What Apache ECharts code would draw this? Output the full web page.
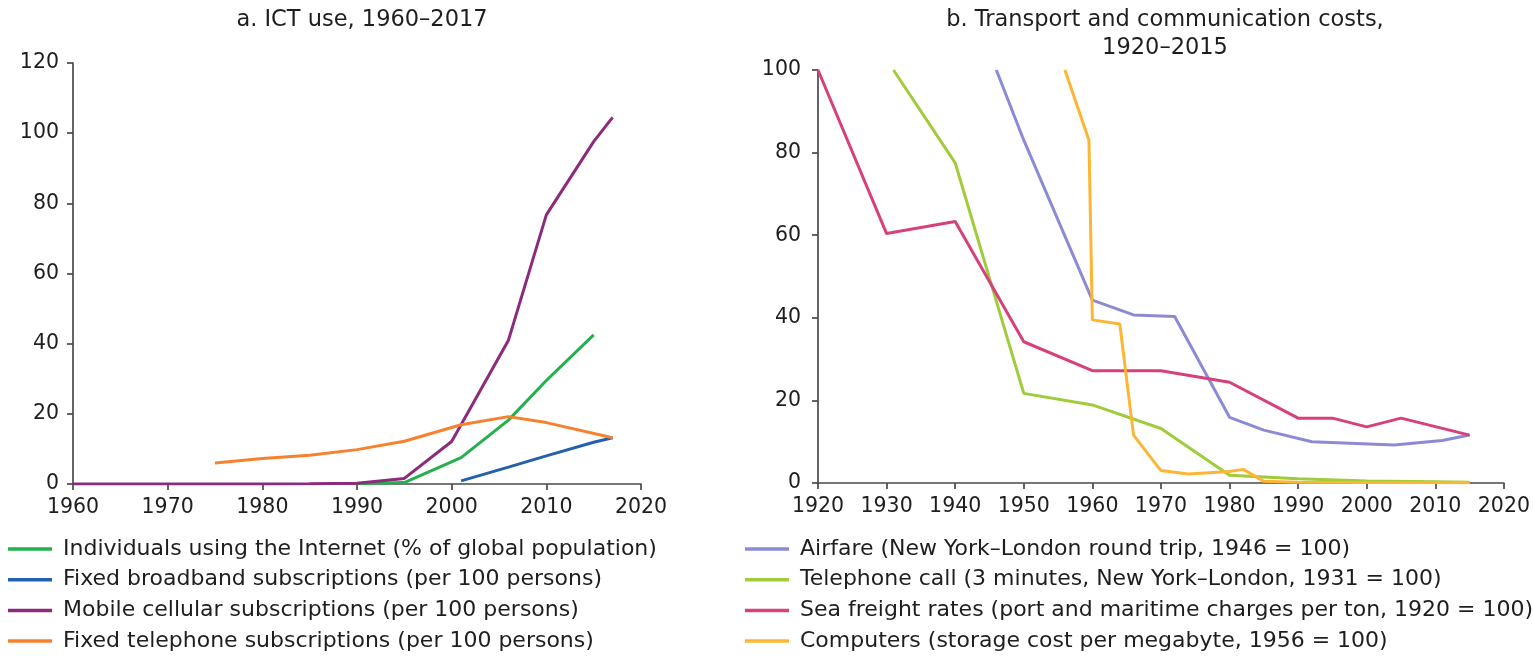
<!DOCTYPE html>
<html>
<head>
<meta charset="utf-8">
<title>ICT use and transport and communication costs</title>
<script src="https://cdn.jsdelivr.net/npm/echarts@6/dist/echarts.min.js"></script>
<style>
  html, body { margin: 0; padding: 0; background: #ffffff; }
  #chart { width: 1533px; height: 656px; }
</style>
</head>
<body>
<div id="chart"></div>
<script>
// ---- Panel a: ICT use, 1960–2017 ----
const ictXTicks = [1960, 2020, 10];
const ictYTicks = [0, 120, 20];

const internetYears  = [1990, 1995, 2001, 2006, 2010, 2015];
const internetValues = [0.05, 0.4, 7.5, 18.2, 29.5, 42.5];

const broadbandYears  = [2001, 2006, 2010, 2015, 2017];
const broadbandValues = [0.9, 4.8, 8.0, 11.9, 13.2];

const mobileYears  = [1960, 1970, 1980, 1985, 1990, 1995, 2000, 2006, 2010, 2015, 2017];
const mobileValues = [0, 0, 0, 0.05, 0.2, 1.6, 12.1, 41, 76.7, 97.6, 104.5];

const telephoneYears  = [1975, 1980, 1985, 1990, 1995, 2001, 2006, 2010, 2017];
const telephoneValues = [6.0, 7.3, 8.2, 9.8, 12.2, 16.9, 19.2, 17.5, 13.2];

// ---- Panel b: Transport and communication costs, 1920–2015 ----
const costXTicks = [1920, 2020, 10];
const costYTicks = [0, 100, 20];

const airfareYears  = [1946, 1950, 1960, 1966, 1972, 1980, 1985, 1992, 2004, 2011, 2015];
const airfareValues = [100, 83, 44.3, 40.7, 40.3, 15.9, 12.8, 10.0, 9.2, 10.3, 11.6];

const callYears  = [1931, 1940, 1950, 1960, 1970, 1980, 1990, 2000, 2010, 2015];
const callValues = [100, 77.5, 21.7, 18.9, 13.2, 1.9, 1.0, 0.5, 0.3, 0.2];

const freightYears  = [1920, 1930, 1940, 1950, 1960, 1970, 1980, 1990, 1995, 2000, 2005, 2015];
const freightValues = [100, 60.4, 63.3, 34.2, 27.2, 27.2, 24.4, 15.7, 15.7, 13.6, 15.7, 11.6];

const storageYears  = [1956, 1959.5, 1960, 1964, 1966, 1970, 1974, 1980, 1982, 1985, 1990, 2000, 2015];
const storageValues = [100, 83, 39.5, 38.5, 11.6, 3.0, 2.2, 2.8, 3.3, 0.4, 0.2, 0.1, 0.05];

// Series labels
const ictNames = [
  'Individuals using the Internet (% of global population)',
  'Fixed broadband subscriptions (per 100 persons)',
  'Mobile cellular subscriptions (per 100 persons)',
  'Fixed telephone subscriptions (per 100 persons)'
];
const costNames = [
  'Airfare (New York\u2013London round trip, 1946 = 100)',
  'Telephone call (3 minutes, New York\u2013London, 1931 = 100)',
  'Sea freight rates (port and maritime charges per ton, 1920 = 100)',
  'Computers (storage cost per megabyte, 1956 = 100)'
];

const ictColors  = ['#24b04c', '#2560ad', '#8c2a7c', '#f7812f'];
const costColors = ['#8b8bd5', '#9fcc3b', '#d8407c', '#fdb633'];

const FONT = 'DejaVu Sans';
const TEXT = '#1e1e1e';
const AXIS = '#4a4a4a';

function pairs(xs, ys) {
  return xs.map((x, i) => [x, ys[i]]);
}

function xAxisOf(ticks, gridIndex) {
  return {
    type: 'value', gridIndex,
    min: ticks[0], max: ticks[1], interval: ticks[2],
    splitLine: { show: false },
    axisLine: { show: true, lineStyle: { color: AXIS, width: 1.7 } },
    axisTick: { show: true, length: 6, lineStyle: { color: AXIS, width: 1.7 } },
    axisLabel: {
      margin: 13, color: TEXT, fontFamily: FONT, fontSize: 20.5,
      formatter: v => String(v), showMinLabel: true, showMaxLabel: true
    }
  };
}

function yAxisOf(ticks, gridIndex, margin) {
  return {
    type: 'value', gridIndex,
    min: ticks[0], max: ticks[1], interval: ticks[2],
    splitLine: { show: false },
    axisLine: { show: true, lineStyle: { color: AXIS, width: 1.7 } },
    axisTick: { show: true, length: 6, lineStyle: { color: AXIS, width: 1.7 } },
    axisLabel: { margin, color: TEXT, fontFamily: FONT, fontSize: 20.5 }
  };
}

function lineSeries(name, color, data, idx, width) {
  return {
    name, type: 'line', data,
    xAxisIndex: idx, yAxisIndex: idx,
    symbol: 'none', smooth: false,
    lineStyle: { color, width },
    itemStyle: { color },
    emphasis: { disabled: true }
  };
}

function legendOf(names, left, top, textPad) {
  return {
    data: names, orient: 'vertical', left, top,
    padding: 0,
    icon: 'rect', itemWidth: 44, itemHeight: 3.5, itemGap: 6.7,
    selectedMode: false,
    textStyle: {
      color: TEXT, fontFamily: FONT, fontSize: 22, lineHeight: 24,
      padding: [0, 0, 0, textPad]
    }
  };
}

const ictData = [
  pairs(internetYears, internetValues),
  pairs(broadbandYears, broadbandValues),
  pairs(mobileYears, mobileValues),
  pairs(telephoneYears, telephoneValues)
];
const costData = [
  pairs(airfareYears, airfareValues),
  pairs(callYears, callValues),
  pairs(freightYears, freightValues),
  pairs(storageYears, storageValues)
];

const titleStyle = { color: TEXT, fontFamily: FONT, fontSize: 22.5, fontWeight: 'normal', lineHeight: 28 };

const option = {
  animation: false,
  backgroundColor: '#ffffff',
  title: [
    { text: 'a. ICT use, 1960\u20132017', left: 357, top: 1, textAlign: 'center', textStyle: titleStyle },
    { text: 'b. Transport and communication costs,\n1920\u20132015', left: 1160, top: 1, textAlign: 'center', textStyle: titleStyle }
  ],
  grid: [
    { left: 73, right: 892, top: 63, bottom: 172 },
    { left: 818, right: 18, top: 70, bottom: 173 }
  ],
  xAxis: [xAxisOf(ictXTicks, 0), xAxisOf(costXTicks, 1)],
  yAxis: [yAxisOf(ictYTicks, 0, 14), yAxisOf(costYTicks, 1, 17)],
  legend: [
    legendOf(ictNames, 8, 537, 6),
    legendOf(costNames, 745, 537, 6)
  ],
  series: [
    ...ictNames.map((n, i) => lineSeries(n, ictColors[i], ictData[i], 0, 3)),
    ...costNames.map((n, i) => lineSeries(n, costColors[i], costData[i], 1, 3))
  ]
};

const chart = echarts.init(document.getElementById('chart'), null, { renderer: 'canvas' });
chart.setOption(option);
</script>
</body>
</html>
